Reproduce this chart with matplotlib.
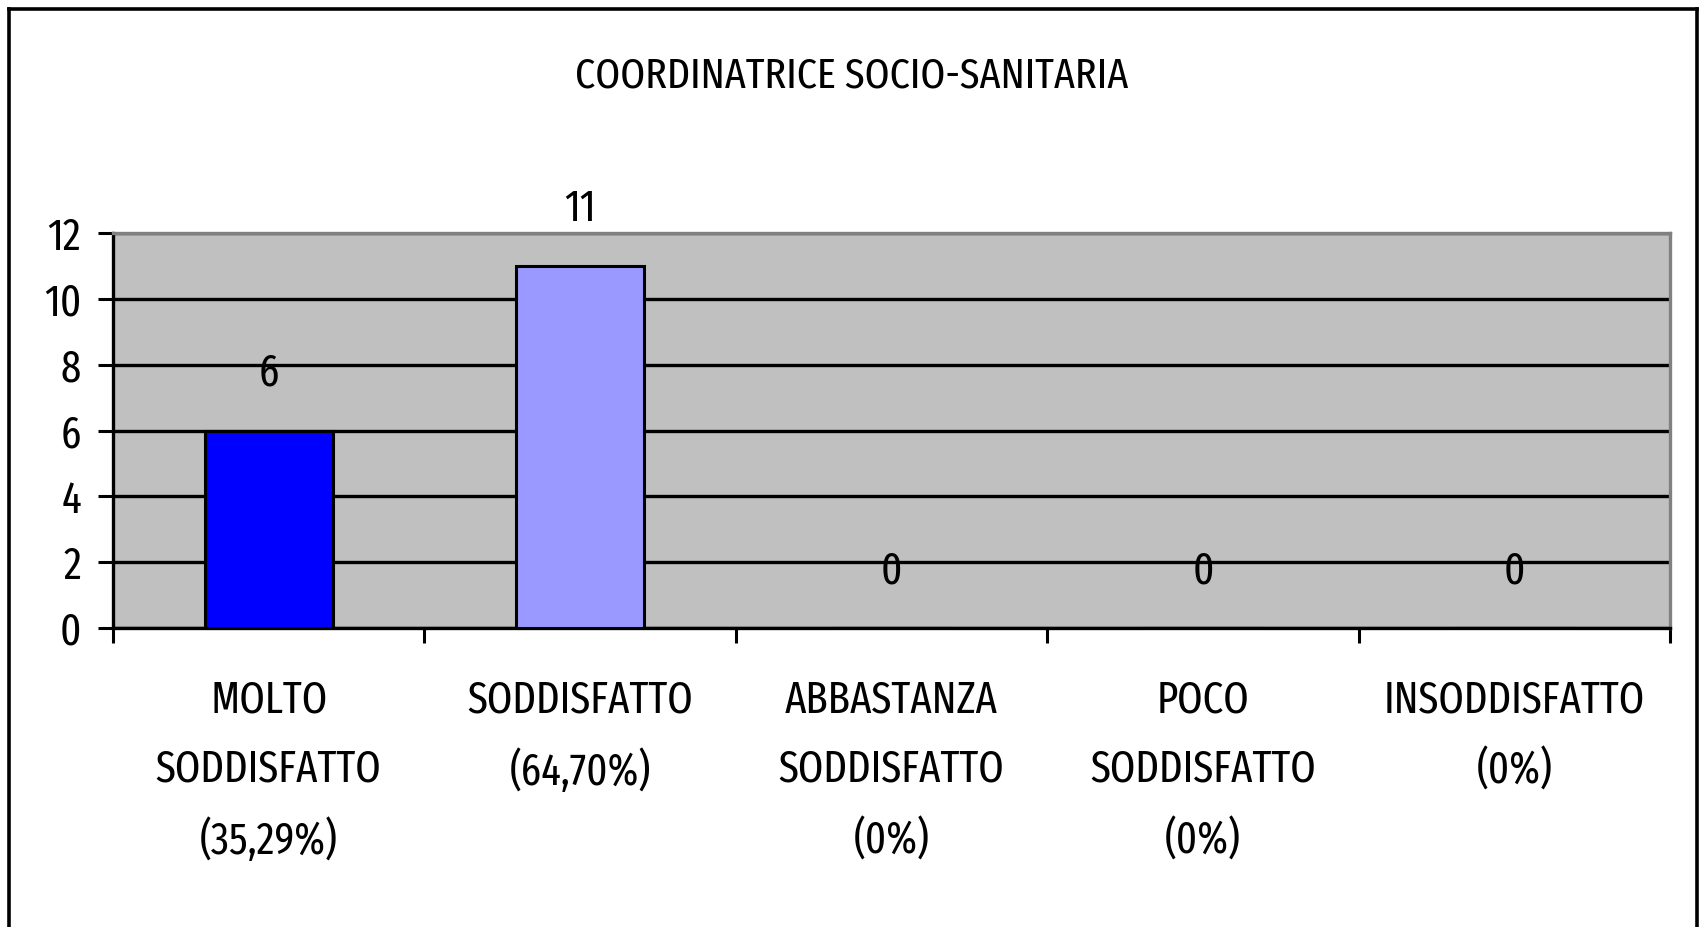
import matplotlib
matplotlib.use("Agg")
import os
import matplotlib.pyplot as plt
import matplotlib.patheffects as pe
from matplotlib.lines import Line2D
from matplotlib import font_manager as fm
import numpy as np

title = "COORDINATRICE SOCIO-SANITARIA"
categories = ["MOLTO\nSODDISFATTO\n(35,29%)", "SODDISFATTO\n(64,70%)",
              "ABBASTANZA\nSODDISFATTO\n(0%)", "POCO\nSODDISFATTO\n(0%)",
              "INSODDISFATTO\n(0%)"]
values = [6, 11, 0, 0, 0]
bar_colors = ["#0000FF", "#9999FF", "#993366", "#FFFFCC", "#CCFFFF"]
yticks = [0, 2, 4, 6, 8, 10, 12]

# ---- choose a narrow sans-serif font among those installed ----
def wnum(w):
    if isinstance(w, str):
        return fm.weight_dict.get(w, 400)
    return int(w)

cands = []
for f in fm.fontManager.ttflist:
    base = os.path.basename(f.fname).lower()
    if "italic" in base or f.style != "normal":
        continue
    if not ("cond" in base or "narrow" in base):
        continue
    if "mono" in base or "serif" in base and "sans" not in base:
        continue
    if "extracond" in base or "extra-cond" in base:
        pr = 0
    elif "narrow" in base:
        pr = 1
    elif "open" in base:
        pr = 2
    elif "semicond" in base:
        pr = 5
    else:
        pr = 3
    w = wnum(f.weight)
    cands.append((pr, abs(w - 400), w, f))
cands.sort(key=lambda c: (c[0], c[1], c[2]))
effects = []
if cands:
    best = cands[0][3]
    FAM, STR, WT = best.name, best.stretch, wnum(best.weight)
    if WT < 400:
        effects = [pe.withStroke(linewidth=(400 - WT) / 100 * 0.75, foreground="black")]
else:
    FAM, STR, WT = "Liberation Sans", "normal", 400
plt.rcParams['font.family'] = [FAM, 'Liberation Sans', 'DejaVu Sans']
plt.rcParams['font.stretch'] = STR
plt.rcParams['font.weight'] = WT

fig = plt.figure(figsize=(17.02, 9.27), dpi=100)
renderer = fig.canvas.get_renderer()

def fit_size(text, target_w, max_size):
    t = fig.text(0, 0, text, fontsize=10)
    w = t.get_window_extent(renderer).width
    t.remove()
    return min(max_size, 10 * target_w / w)

fs = fit_size("SODDISFATTO", 226, 38)
fs_title = fit_size(title, 552, 40)

ax = fig.add_axes([113/1702, 1-628/927, (1670-113)/1702, (628-233)/927])
ax.set_facecolor("#C0C0C0")

x = np.arange(len(categories))
ax.bar(x, values, width=0.41, color=bar_colors[:len(values)], edgecolor="black",
       linewidth=2.2, zorder=3)
for xi, v in zip(x, values):
    ax.annotate(str(v), (xi, v), xytext=(0, 41), textcoords="offset points",
                ha="center", va="center", fontsize=fs, zorder=4,
                path_effects=effects)

ax.set_xlim(-0.5, len(categories) - 0.5)
ax.set_ylim(0, 12)
ax.set_yticks(yticks)
ax.set_yticklabels([str(t) for t in yticks], fontsize=fs)
ax.yaxis.grid(True, color="black", linewidth=2.4, zorder=1)
ax.set_axisbelow(True)

# iterate line spacing so that label lines are ~69.5 px apart
def pitch_at(ls):
    t1 = fig.text(0, 0, "A\nA", fontsize=fs, linespacing=ls)
    t2 = fig.text(0, 0, "A\nA\nA", fontsize=fs, linespacing=ls)
    p = t2.get_window_extent(renderer).height - t1.get_window_extent(renderer).height
    t1.remove(); t2.remove()
    return p
ls = 1.5
for _ in range(6):
    ls *= 69.5 / pitch_at(ls)

ax.set_xticks(np.arange(len(categories) + 1) - 0.5)
ax.set_xticklabels([])
ax.set_xticks(x, minor=True)
ax.set_xticklabels(categories, minor=True, fontsize=fs, linespacing=ls)
ax.tick_params(axis="x", which="major", length=11, width=2.2, color="black")
ax.tick_params(axis="x", which="minor", length=0, pad=36.5)
ax.tick_params(axis="y", length=11, width=2.2, pad=12)
for lab in ax.get_xticklabels(minor=True) + ax.get_yticklabels():
    lab.set_path_effects(effects)

for s in ["left", "bottom"]:
    ax.spines[s].set_color("black")
    ax.spines[s].set_linewidth(2.4)
for s in ["top", "right"]:
    ax.spines[s].set_color("#808080")
    ax.spines[s].set_linewidth(2.4)

fig.text(852/1702, 1-76/927, title, ha="center", va="center", fontsize=fs_title,
         path_effects=effects)

# outer chart border
lw = 2.6
fig.add_artist(Line2D([9/1702, 9/1702], [0, 1-9/927], color="black", linewidth=lw, transform=fig.transFigure))
fig.add_artist(Line2D([9/1702, 1697/1702], [1-9/927, 1-9/927], color="black", linewidth=lw, transform=fig.transFigure))
fig.add_artist(Line2D([1697/1702, 1697/1702], [0, 1-9/927], color="black", linewidth=lw, transform=fig.transFigure))

fig.savefig("out.png", dpi=100)
